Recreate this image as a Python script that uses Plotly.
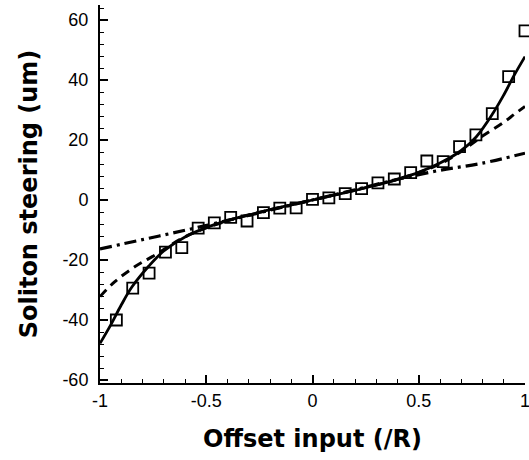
import plotly.graph_objects as go

# Measured data (squares)
meas_x = [-0.923, -0.846, -0.769, -0.692, -0.615, -0.538, -0.462, -0.385, -0.308, -0.231,
          -0.154, -0.077, 0.0, 0.077, 0.154, 0.231, 0.308, 0.385, 0.462, 0.538,
          0.615, 0.692, 0.769, 0.846, 0.923, 1.0]
meas_y = [-40.0, -29.4, -24.4, -17.4, -15.9, -9.4, -7.6, -5.8, -7.0, -4.2,
          -2.7, -2.6, 0.2, 0.7, 2.1, 3.8, 5.7, 7.0, 9.1, 13.0,
          12.8, 17.8, 21.7, 28.8, 41.1, 56.4]

# Solid curve
solid_x = [-1.0, -0.95, -0.9, -0.85, -0.77, -0.7, -0.6, -0.5, -0.4, -0.3, -0.2, -0.1, 0.0,
           0.1, 0.2, 0.3, 0.4, 0.5, 0.6, 0.7, 0.77, 0.85, 0.9, 0.95, 1.0]
solid_y = [-47.8, -41.7, -35.0, -29.0, -22.0, -17.0, -12.3, -9.2, -6.9, -5.0, -3.2, -1.6, 0.0,
           1.6, 3.2, 5.0, 6.9, 9.2, 12.3, 16.5, 21.0, 29.0, 35.0, 41.7, 47.8]

# Dashed curve
dash_x = [-1.0, -0.93, -0.835, -0.74, -0.6, -0.4, -0.2, 0.0, 0.2, 0.4, 0.6, 0.7, 0.8, 0.9, 0.95, 1.0]
dash_y = [-32.2, -27.2, -22.2, -18.3, -12.3, -6.9, -3.3, 0.0, 3.3, 6.9, 12.0, 16.2, 21.3, 25.9, 28.6, 31.2]

# Dash-dot curve
dd_x = [-1.0, -0.8, -0.6, -0.4, -0.2, 0.0, 0.2, 0.4, 0.6, 0.8, 1.0]
dd_y = [-16.3, -13.2, -10.1, -6.8, -3.4, 0.0, 3.4, 6.9, 9.9, 12.3, 15.6]

x_ticks = [-1, -0.5, 0, 0.5, 1]
x_tick_text = ["-1", "-0.5", "0", "0.5", "1"]
y_ticks = [-60, -40, -20, 0, 20, 40, 60]
y_tick_text = ["-60", "-40", "-20", "0", "20", "40", "60"]

FONT = "Arial, Liberation Sans, sans-serif"
TITLE_FONT = "DejaVu Sans, Verdana, sans-serif"

fig = go.Figure()
fig.add_trace(go.Scatter(x=dd_x, y=dd_y, mode="lines",
                         line=dict(color="black", width=3.2, dash="12px,5px,3px,5px", shape="spline"),
                         showlegend=False))
fig.add_trace(go.Scatter(x=dash_x, y=dash_y, mode="lines",
                         line=dict(color="black", width=3, dash="9px,6px", shape="spline"),
                         showlegend=False))
fig.add_trace(go.Scatter(x=solid_x, y=solid_y, mode="lines",
                         line=dict(color="black", width=2.8, shape="spline"),
                         showlegend=False))
fig.add_trace(go.Scatter(x=meas_x, y=meas_y, mode="markers",
                         marker=dict(symbol="square-open", size=11, color="black",
                                     line=dict(width=1.8, color="black")),
                         cliponaxis=False, showlegend=False))

fig.update_layout(
    width=529, height=460,
    margin=dict(l=100, r=4, t=5, b=77, autoexpand=False),
    paper_bgcolor="white", plot_bgcolor="white",
    font=dict(family=FONT, size=18, color="black"),
)
fig.update_xaxes(
    range=[-1, 1], tickvals=x_ticks, ticktext=x_tick_text,
    showgrid=False, zeroline=False, showline=True, linecolor="black", linewidth=2,
    ticks="inside", ticklen=8, tickwidth=2, tickcolor="black",
    minor=dict(dtick=0.1, tick0=0, ticks="inside", ticklen=4, tickwidth=1, tickcolor="black"),
    tickfont=dict(size=18), ticklabelstandoff=0, ticklabeloverflow="allow",
    title=dict(text="<b>Offset input (/R)</b>", font=dict(size=24, family=TITLE_FONT), standoff=21),
)
fig.update_yaxes(
    range=[-61, 65], tickvals=y_ticks, ticktext=y_tick_text,
    showgrid=False, zeroline=False, showline=True, linecolor="black", linewidth=2,
    ticks="inside", ticklen=8, tickwidth=2, tickcolor="black",
    minor=dict(dtick=4, tick0=0, ticks="inside", ticklen=4, tickwidth=1, tickcolor="black"),
    tickfont=dict(size=18), ticklabelstandoff=6, ticklabeloverflow="allow",
    title=dict(text="<b>Soliton steering (um)</b>", font=dict(size=24, family=TITLE_FONT), standoff=18),
)

fig.write_html("out.html", config={"displayModeBar": False},
               post_script="document.body.style.margin='0px';")
